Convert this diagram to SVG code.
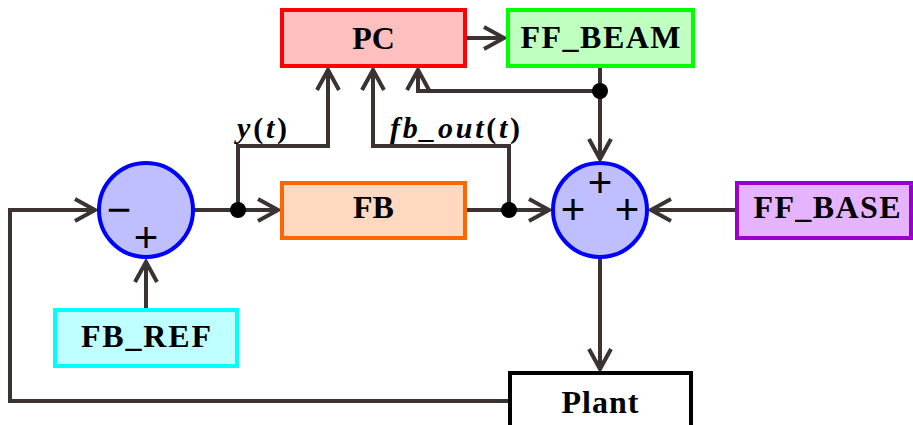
<svg xmlns="http://www.w3.org/2000/svg" width="913" height="425" viewBox="0 0 913 425">
<style>
.box{stroke-width:4}
.lbl{font-family:"Liberation Serif","Times New Roman",serif;font-weight:bold;font-size:32px;fill:#000;text-anchor:middle}
.sig{font-family:"Liberation Serif","Times New Roman",serif;font-weight:bold;font-size:30px;fill:#000}
.it{font-style:italic}
.sign{font-family:"Liberation Sans",Arial,sans-serif;font-size:42px;fill:#000;text-anchor:middle}
.wire{fill:none;stroke:#3a3331;stroke-width:4;marker-end:url(#arr)}
.sum{fill:#bfbfff;stroke:#0000ff;stroke-width:4}
</style>
<defs>
<marker id="arr" markerUnits="userSpaceOnUse" viewBox="-24 -14 30 28" refX="0" refY="0" markerWidth="30" markerHeight="28" orient="auto" overflow="visible">
<path d="M-20,-11 L0,0 L-20,11" fill="none" stroke="#3a3331" stroke-width="4" stroke-linejoin="miter"/>
</marker>
</defs>
<rect width="913" height="425" fill="#ffffff"/>
<g id="connectors">
<polyline class="wire" points="510,401 10,401 10,210 95,210"/>
<line class="wire" x1="146" y1="310" x2="146" y2="262"/>
<line class="wire" x1="193" y1="210" x2="278" y2="210"/>
<polyline class="wire" points="238,210 238,146 328,146 328,70"/>
<line class="wire" x1="465" y1="210" x2="549" y2="210"/>
<polyline class="wire" points="509,210 509,146 373,146 373,70"/>
<line class="wire" x1="466" y1="38" x2="504" y2="38"/>
<line class="wire" x1="600" y1="66" x2="600" y2="159"/>
<polyline class="wire" points="600,91 418,91 418,70"/>
<line class="wire" x1="600" y1="257" x2="600" y2="369"/>
<line class="wire" x1="737" y1="210" x2="651" y2="210"/>
<circle cx="238" cy="210" r="8" fill="#000"/>
<circle cx="509" cy="210" r="8" fill="#000"/>
<circle cx="600" cy="91" r="8" fill="#000"/>
<text class="sig" x="237" y="138" letter-spacing="2.8"><tspan class="it">y</tspan>(<tspan class="it">t</tspan>)</text>
<text class="sig" x="390" y="138" letter-spacing="2.7"><tspan class="it">fb_out</tspan>(<tspan class="it">t</tspan>)</text>
</g>
<g id="PC">
<rect class="box" x="282" y="10" width="183" height="56" fill="#ffbfbf" stroke="#ff0000"/>
<text class="lbl" x="373.5" y="49">PC</text>
</g>
<g id="FF_BEAM">
<rect class="box" x="508" y="10" width="185" height="56" fill="#bfffbf" stroke="#00ff00"/>
<text class="lbl" x="600.5" y="48" textLength="160" lengthAdjust="spacing">FF_BEAM</text>
</g>
<g id="FB">
<rect class="box" x="282" y="183" width="183" height="55" fill="#ffd9bf" stroke="#ff6600"/>
<text class="lbl" x="373.5" y="218">FB</text>
</g>
<g id="FF_BASE">
<rect class="box" x="737" y="183" width="174" height="55" fill="#e6b3ff" stroke="#9900cc"/>
<text class="lbl" x="827" y="218" textLength="147" lengthAdjust="spacing">FF_BASE</text>
</g>
<g id="FB_REF">
<rect class="box" x="55" y="310" width="182" height="56" fill="#bfffff" stroke="#00ffff"/>
<text class="lbl" x="146" y="347" textLength="130" lengthAdjust="spacing">FB_REF</text>
</g>
<g id="Plant">
<rect class="box" x="510" y="373" width="181" height="70" fill="#ffffff" stroke="#000000"/>
<text class="lbl" x="600" y="413" textLength="77" lengthAdjust="spacing">Plant</text>
</g>
<g id="sum1">
<circle class="sum" cx="146" cy="210" r="47"/>
<text class="sign" x="119" y="224">−</text>
<text class="sign" x="146" y="252">+</text>
</g>
<g id="sum2">
<circle class="sum" cx="600" cy="210" r="47"/>
<text class="sign" x="600" y="197">+</text>
<text class="sign" x="573" y="224">+</text>
<text class="sign" x="627" y="224">+</text>
</g>
</svg>
